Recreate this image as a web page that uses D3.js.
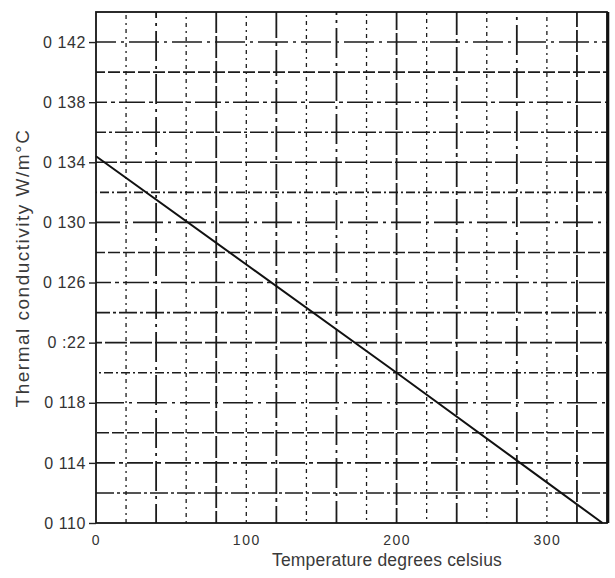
<!DOCTYPE html>
<html>
<head>
<meta charset="utf-8">
<script src="https://cdn.jsdelivr.net/npm/d3@7"></script>
<style>
  html, body { margin: 0; padding: 0; background: #fff; }
  #chart { width: 615px; height: 578px; }
  text { font-family: "Liberation Sans", Arial, sans-serif; fill: #333; }
  .y-label { font-size: 16px; letter-spacing: 0.6px; }
  .x-label { font-size: 14px; letter-spacing: 1.5px; }
  .x-title { font-size: 17.5px; letter-spacing: 0.2px; fill: #3a3a3a; }
  .y-title { font-size: 19px; letter-spacing: 1.5px; fill: #3a3a3a; }
</style>
</head>
<body>
<div id="chart"></div>
<script>
/* global d3 */

// line (temperature °C, conductivity W/m°C)
const TEMPS = [0, 100, 200, 300, 337];
const CONDUCTIVITY = [0.1344, 0.1272, 0.12, 0.1127, 0.110];

const X_TICKS = [0, 100, 200, 300];
const Y_TICKS = [0.110, 0.114, 0.118, 0.122, 0.126, 0.130, 0.134, 0.138, 0.142];
const Y_TICK_LABELS = ["0 110", "0 114", "0 118", "0 :22", "0 126", "0 130", "0 134", "0 138", "0 142"];
const X_GRID = d3.range(20, 340, 20);
const Y_GRID = d3.range(0.112, 0.1435, 0.002);

const width = 615;
const height = 578;
const margin = { top: 12, right: 8, bottom: 55, left: 96 };

const x = d3.scaleLinear().domain([0, 340]).range([margin.left, width - margin.right]);
const y = d3.scaleLinear().domain([0.110, 0.144]).range([height - margin.bottom, margin.top]);

const svg = d3
  .select("#chart")
  .append("svg")
  .attr("width", width)
  .attr("height", height);

// scanned grid: broken dash / dash-dot lines
const dashes = ["18,3,3,3", "26,4,4,4", "12,3", "30,5,3,5", "9,3,2,3", "22,3"];

svg
  .append("g")
  .selectAll("line")
  .data(Y_GRID)
  .join("line")
  .attr("x1", x(0))
  .attr("x2", x(340))
  .attr("y1", (d) => y(d))
  .attr("y2", (d) => y(d))
  .attr("stroke", "#1c1c1c")
  .attr("stroke-width", 1.6)
  .attr("stroke-dasharray", (d, i) => dashes[i % dashes.length])
  .attr("stroke-dashoffset", (d, i) => (i * 7) % 19);

svg
  .append("g")
  .selectAll("line")
  .data(X_GRID)
  .join("line")
  .attr("x1", (d) => x(d))
  .attr("x2", (d) => x(d))
  .attr("y1", y(0.110))
  .attr("y2", y(0.144))
  .attr("stroke", "#1c1c1c")
  .attr("stroke-width", (d, i) => (i % 2 ? 1.8 : 1.3))
  .attr("stroke-dasharray", (d, i) => (i % 2 ? dashes[(i + 2) % dashes.length] : "4,4,2,4"))
  .attr("stroke-dashoffset", (d, i) => (i * 11) % 23);

// frame
svg
  .append("rect")
  .attr("x", x(0))
  .attr("y", y(0.144))
  .attr("width", x(340) - x(0))
  .attr("height", y(0.110) - y(0.144))
  .attr("fill", "none")
  .attr("stroke", "#151515")
  .attr("stroke-width", 1.8);

svg
  .append("line")
  .attr("x1", x(340) + 1)
  .attr("x2", x(340) + 1)
  .attr("y1", y(0.144))
  .attr("y2", y(0.110))
  .attr("stroke", "#111")
  .attr("stroke-width", 2.6);

// y axis ticks + labels
const yAxis = svg
  .append("g")
  .attr("transform", `translate(${x(0)},0)`)
  .call(
    d3
      .axisLeft(y)
      .tickValues(Y_TICKS)
      .tickSize(7)
      .tickPadding(3)
      .tickFormat((d, i) => Y_TICK_LABELS[i]),
  );
yAxis.select(".domain").remove();
yAxis.selectAll(".tick line").attr("stroke", "#222").attr("stroke-width", 1.4);
yAxis.selectAll(".tick text").attr("class", "y-label").attr("font-family", null).attr("font-size", null);

// x labels
const xAxis = svg
  .append("g")
  .attr("transform", `translate(0,${y(0.110)})`)
  .call(d3.axisBottom(x).tickValues(X_TICKS).tickSize(0).tickPadding(12));
xAxis.select(".domain").remove();
xAxis.selectAll(".tick text").attr("class", "x-label").attr("font-family", null).attr("font-size", null);

// conductivity line
svg
  .append("path")
  .datum(TEMPS.map((t, i) => [t, CONDUCTIVITY[i]]))
  .attr("fill", "none")
  .attr("stroke", "#111")
  .attr("stroke-width", 2)
  .attr("d", d3.line().x((d) => x(d[0])).y((d) => y(d[1])));

svg
  .append("text")
  .attr("class", "x-title")
  .attr("x", 387)
  .attr("y", 566)
  .attr("text-anchor", "middle")
  .text("Temperature degrees celsius");

svg
  .append("text")
  .attr("class", "y-title")
  .attr("transform", `translate(29,268) rotate(-90)`)
  .attr("text-anchor", "middle")
  .text("Thermal conductivity W/m°C");
</script>
</body>
</html>
